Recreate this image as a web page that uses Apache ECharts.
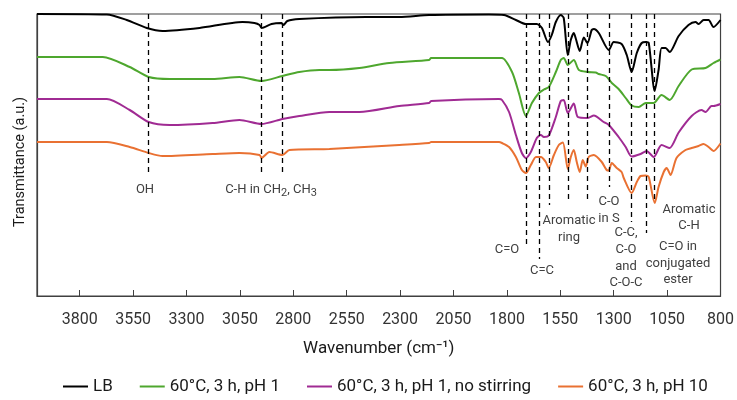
<!DOCTYPE html>
<html>
<head>
<meta charset="utf-8">
<script src="https://cdn.jsdelivr.net/npm/echarts@6/dist/echarts.min.js"></script>
<style>
html,body{margin:0;padding:0;background:#fff;}
#chart{width:737px;height:400px;}
</style>
</head>
<body>
<div id="chart"></div>
<script>
// Wavenumber axis ticks (cm-1)
const xTicks = [3800, 3550, 3300, 3050, 2800, 2550, 2300, 2050, 1800, 1550, 1300, 1050, 800];
const seriesNames = ['LB', '60°C, 3 h, pH 1', '60°C, 3 h, pH 1, no stirring', '60°C, 3 h, pH 10'];

// [wavenumber, transmittance (a.u., offset stacked)]
const lbData = [[4000,282],[3673,281.5],[3580,276],[3486,268],[3412,265],[3239,268],[3038,274],[2982,273],[2958,271],[2949,268],[2902,272],[2856,273],[2846,271],[2828,275],[2772,277],[2459,279],[2304,279],[2164,281],[1884,281.5],[1814,281],[1758,276],[1711,272],[1660,272],[1636,268],[1608,254],[1590,261],[1571,274],[1548,281],[1534,278],[1515,241],[1501,256],[1487,263],[1477,257],[1459,245],[1440,258.5],[1423,253],[1403,266],[1393,267],[1370,263],[1323,246],[1300,254],[1263,252],[1239,241],[1216,224],[1192,243],[1169,253],[1150,254],[1136,253],[1108,205],[1090,226],[1076,248],[1057,248],[1038,244],[996,260],[950,271],[917,274],[903,272],[879,276],[856,276],[833,269],[800,276]];
const ph1Data = [[4000,239],[3692,239],[3566,229],[3477,219],[3379,217],[3178,217],[3052,219],[2949,215],[2851,220],[2772,224],[2678,226],[2631,226],[2491,228],[2351,233],[2164,236],[2155,238],[1837,238],[1823,238],[1776,224],[1744,203],[1711,180],[1683,193],[1650,203],[1627,206.5],[1604,209],[1571,224],[1548,236],[1534,238],[1515,231],[1487,236],[1463,226],[1421,224],[1384,223.5],[1370,222],[1337,220],[1309,213],[1277,207],[1244,198],[1216,190.5],[1183,189],[1150,193],[1113,193],[1076,201],[1038,196],[996,210],[935,226.5],[870,228],[833,233],[800,236.5]];
const ph1NsData = [[4000,197],[3673,197],[3566,186],[3477,174],[3379,171],[3178,173],[3052,176],[2949,172],[2851,177],[2772,180],[2631,184],[2491,184],[2304,190],[2164,193],[2155,195],[1837,197],[1823,196],[1790,184],[1758,161],[1730,143],[1711,138],[1688,144],[1660,158],[1641,161],[1627,159],[1604,160.5],[1571,179],[1548,195],[1534,196],[1515,183],[1487,192.5],[1468,179],[1421,178],[1393,180.5],[1347,174],[1323,171],[1277,159],[1244,149],[1216,139.5],[1174,142],[1146,145],[1113,139],[1076,151],[1038,148],[996,163.5],[935,180],[889,186],[870,184],[842,190],[833,190],[800,192]];
const ph10Data = [[4000,154],[3673,154],[3566,149],[3477,143],[3412,140],[3178,142],[3052,143],[2958,141],[2949,138],[2912,144],[2851,141],[2818,146],[2631,147],[2304,151],[2164,153],[2155,154],[1837,154],[1823,153],[1790,149],[1758,139],[1730,126],[1711,123],[1688,131],[1664,139],[1641,139],[1618,134],[1604,128],[1580,141],[1557,151],[1538,153.5],[1515,127],[1501,139],[1487,146],[1473,134],[1459,124],[1445,136],[1431,129.5],[1417,139],[1393,141],[1356,134],[1333,126],[1323,125.5],[1309,133],[1286,128],[1263,124],[1253,118],[1216,103],[1192,114],[1174,120],[1150,120.5],[1136,119],[1108,93],[1090,109],[1066,124],[1052,128],[1034,121],[1006,138],[964,146],[935,148],[903,150],[879,152],[856,149],[833,145],[800,152.5]];

// Band marker lines: wavenumber and lower end (a.u.)
const bandWavenumbers = [3477, 2949, 2851, 1711, 1650, 1604, 1515, 1423, 1323, 1216, 1150, 1110];
const bandLowerEnds   = [120, 123, 123, 48, 37, 91, 93, 93, 109, 74, 63, 93];
const yTop = 282;

const colors = ['#000000', '#4EA72E', '#A02B93', '#E97132'];
const FONT = "'Roboto','Liberation Sans',sans-serif";

const chart = echarts.init(document.getElementById('chart'), null, {renderer: 'canvas'});

const markLines = bandWavenumbers.map((w, i) => [
  {coord: [w, yTop]},
  {coord: [w, bandLowerEnds[i]]}
]);

const datasets = [lbData, ph1Data, ph1NsData, ph10Data];
const series = datasets.map((d, i) => ({
  name: seriesNames[i],
  type: 'line',
  data: d,
  showSymbol: false,
  smooth: 0.25,
  lineStyle: {color: colors[i], width: 2},
  itemStyle: {color: colors[i]},
  z: 3,
  animation: false
}));
series[0].markLine = {
  silent: true,
  symbol: ['none', 'none'],
  label: {show: false},
  lineStyle: {color: '#000', width: 1.3, type: [5, 4]},
  data: markLines,
  animation: false,
  z: 5
};

const annStyle = {fill: '#404040', fontSize: 13, fontFamily: FONT, align: 'center', verticalAlign: 'middle'};
function ann(x, y, text, lh) {
  return {type: 'text', x: x, y: y, silent: true, style: Object.assign({}, annStyle, {text: text, lineHeight: lh || 16.5})};
}

chart.setOption({
  animation: false,
  backgroundColor: '#fff',
  grid: {left: 37, right: 15, top: 14, bottom: 104, show: true, borderColor: '#404040', borderWidth: 1.2},
  legend: {
    data: seriesNames,
    top: 373,
    left: 58,
    icon: 'rect',
    itemWidth: 25,
    itemHeight: 2,
    itemGap: 27,
    textStyle: {fontSize: 17, color: '#1a1a1a', fontFamily: FONT}
  },
  xAxis: {
    type: 'value',
    inverse: true,
    min: 800,
    max: 4000,
    interval: 250,
    name: 'Wavenumber (cm⁻¹)',
    nameLocation: 'middle',
    nameGap: 44,
    nameTextStyle: {fontSize: 17, color: '#1a1a1a', fontFamily: FONT},
    axisLine: {show: true, lineStyle: {color: '#404040', width: 1.2}},
    axisTick: {show: true, inside: true, length: 6, lineStyle: {color: '#404040'}},
    axisLabel: {
      margin: 16, fontSize: 16, color: '#333', fontFamily: FONT,
      showMaxLabel: false,
      formatter: v => (xTicks.indexOf(v) >= 0 ? String(v) : '')
    },
    splitLine: {show: false}
  },
  yAxis: {
    type: 'value',
    min: 0,
    max: 282,
    name: 'Transmittance (a.u.)',
    nameLocation: 'middle',
    nameRotate: 90,
    nameGap: 9,
    nameTextStyle: {fontSize: 14.5, color: '#1a1a1a', fontFamily: FONT, padding: [0, 14, 0, 0]},
    axisLine: {show: true, lineStyle: {color: '#404040', width: 1.2}},
    axisTick: {show: false},
    axisLabel: {show: false},
    splitLine: {show: false}
  },
  series: series,
  graphic: [
    ann(145, 190, 'OH'),
    {type: 'text', x: 271, y: 190, silent: true, style: {
      text: '{a|C-H in CH}{s|2}{a|, CH}{s|3}', align: 'center', verticalAlign: 'middle', fill: '#404040', fontFamily: FONT,
      rich: {a: {fontSize: 13, fontFamily: FONT, fill: '#404040', verticalAlign: 'bottom'}, s: {fontSize: 11, fontFamily: FONT, fill: '#404040', verticalAlign: 'bottom', padding: [0,0,-2,0]}}
    }},
    ann(507, 250, 'C=O'),
    ann(542, 271, 'C=C'),
    ann(569, 229.5, 'Aromatic\nring', 17),
    ann(609, 210.5, 'C-O\nin S', 17),
    ann(626, 258, 'C-C,\nC-O\nand\nC-O-C', 16.7),
    ann(689, 218, 'Aromatic\nC-H', 16),
    ann(678, 263.5, 'C=O in\nconjugated\nester', 16.5)
  ]
});
</script>
</body>
</html>
